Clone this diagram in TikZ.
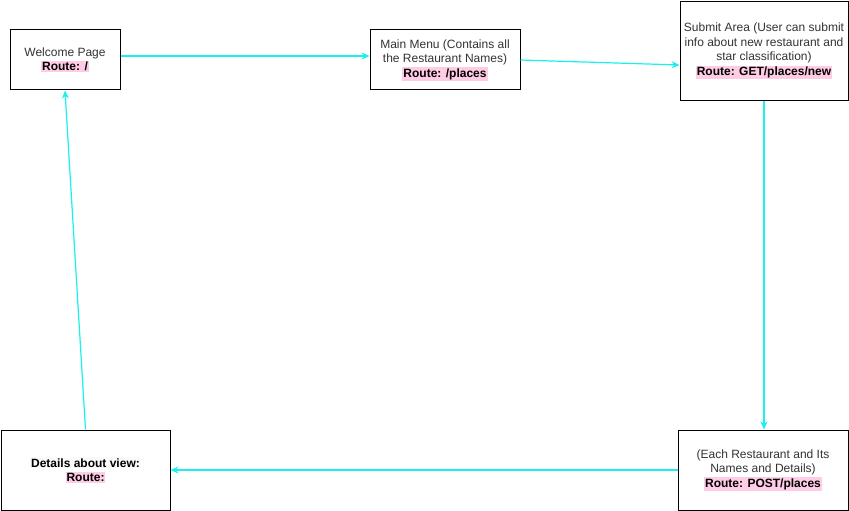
\documentclass[tikz,border=0pt]{standalone}
\usepackage{fontspec}
\setmainfont{Liberation Sans}
\usepackage{xcolor}
\usetikzlibrary{arrows.meta}
\definecolor{routepink}{HTML}{FFCCE6}
\definecolor{linkcyan}{HTML}{1AF0F0}
\definecolor{pagetext}{HTML}{333333}
\newcommand{\route}[1]{{\setlength{\fboxsep}{1pt}\colorbox{routepink}{\textcolor{black}{\bfseries #1}}}}
\begin{document}
\begin{tikzpicture}[x=1pt,y=-1pt]
        		\tikzstyle{page}=[rectangle,draw=black,line width=1pt,fill=white,align=center,text=pagetext,inner sep=2pt,font=\fontsize{12}{14.5}\selectfont]
        		\tikzstyle{edge}=[draw=linkcyan, line width=1.2pt, -{Stealth[length=8pt,width=7pt]}]
        		\useasboundingbox (0,0) rectangle (849,511);
        		\begin{scope}
        			\node [page,minimum width=110pt,minimum height=60pt] (welcome) at (65,60) {Welcome Page\\\route{Route: /}};
				    \node [page,minimum width=150pt,minimum height=60pt] (menu) at (445,60) {Main Menu (Contains all\\the Restaurant Names)\\\route{Route: /places}};
				    \node [page,minimum width=168pt,minimum height=98pt] (submit) at (764,51) {Submit Area (User can submit\\info about new restaurant and\\star classification)\\\route{Route: GET/places/new}};
				    \node [page,minimum width=170pt,minimum height=80pt] (post) at (763,470) {(Each Restaurant and Its\\Names and Details)\\\route{Route: POST/places}};
				    \node [page,minimum width=169pt,minimum height=80pt] (details) at (85.5,470) {{\setlength{\fboxsep}{1pt}\colorbox{gray!4}{\textcolor{black}{\bfseries Details about view:}}}\\\route{Route:}};
				    \path[edge] ([yshift=4pt]welcome.east) -- ([yshift=4pt]menu.west);
				    \path[edge] (menu.east) -- ([yshift=-14pt]submit.west);
				    \path[edge] (submit.south) -- (submit.south |- post.north);
				    \path[edge] (post.west) -- (details.east);
				    \path[edge] (details.north) -- (welcome.south);
        		\end{scope}
      		\end{tikzpicture}
\end{document}
